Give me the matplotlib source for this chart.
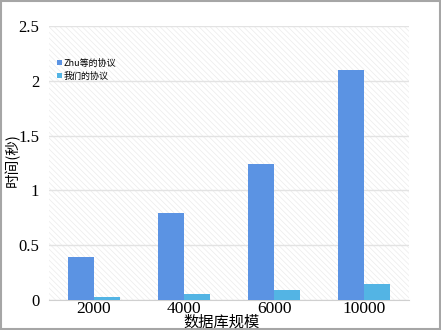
import matplotlib.pyplot as plt
import numpy as np
from matplotlib.patches import Rectangle

plt.rcParams['hatch.linewidth'] = 0.5

categories = ['2000', '4000', '6000', '10000']
zhu_times = [0.395, 0.79, 1.24, 2.10]
our_times = [0.025, 0.055, 0.088, 0.15]
series_names = ['Zhu等的协议', '我们的协议']
yticks = [0, 0.5, 1, 1.5, 2, 2.5]
ytick_labels = ['0', '0.5', '1', '1.5', '2', '2.5']

cjk = ['Noto Sans CJK SC', 'DejaVu Sans']
serif = ['Liberation Serif', 'Noto Sans CJK SC']

fig = plt.figure(figsize=(4.41, 3.30), dpi=100)
ax = fig.add_axes([49 / 441, 30 / 330, 360 / 441, 274 / 330])

# hatched background
ax.patch.set_facecolor('white')
ax.patch.set_edgecolor('#ebebeb')
ax.patch.set_hatch('\\' * 6)
ax.patch.set_linewidth(0)

x = np.arange(len(categories))
w = 0.29
ax.bar(x - w / 2, zhu_times, w, color='#5b93e3', label=series_names[0], zorder=3)
ax.bar(x + w / 2, our_times, w, color='#53b4e4', label=series_names[1], zorder=3)

ax.set_xlim(-0.5, len(categories) - 0.5)
ax.set_ylim(0, 2.5)
ax.set_yticks(yticks)
ax.set_yticklabels(ytick_labels, family=serif, fontsize=12)
ax.set_xticks(x)
ax.set_xticklabels(categories, family=serif, fontsize=12.5)
ax.tick_params(length=0, pad=1)
ax.tick_params(axis='y', pad=7)

ax.grid(axis='y', color='#e3e3e3', linewidth=1, zorder=1)
ax.set_axisbelow(True)
for s in ['top', 'right', 'left']:
    ax.spines[s].set_visible(False)
ax.spines['bottom'].set_color('#d0d0d0')

fig.text(12 / 441, 1 - 160 / 330, '时间(秒)', family=cjk, fontsize=10.5,
         rotation=90, ha='center', va='center')
fig.text(222 / 441, 1 - 322 / 330, '数据库规模', family=cjk, fontsize=11,
         ha='center', va='center')

leg = ax.legend(loc='upper left', bbox_to_anchor=(0.0, 0.91), frameon=False,
                prop={'family': cjk, 'size': 6.5}, handlelength=0.5,
                handleheight=0.5, handletextpad=0.2, labelspacing=0.4)

fig.patches.append(Rectangle((0.002, 0.003), 0.995, 0.993, transform=fig.transFigure,
                             fill=False, edgecolor='#a6a6a6', linewidth=1.5))

fig.savefig('out.png', dpi=100)
